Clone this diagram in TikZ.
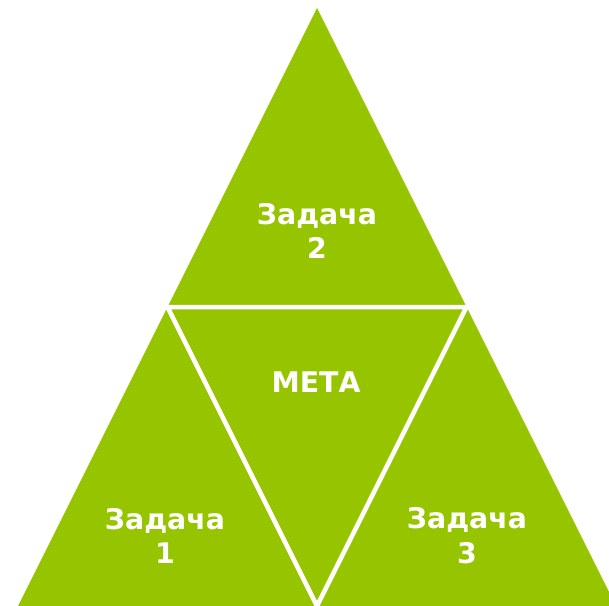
\documentclass[tikz,border=0pt]{standalone}
\usepackage{fontspec}
\setmainfont{DejaVu Sans}
\usepackage{xcolor}
\usepackage{tikz}
\usetikzlibrary{positioning}
\definecolor{leafgreen}{RGB}{150,197,0}

\begin{document}
\begin{tikzpicture}[
  x=1bp, y=-1bp,
  piece/.style={fill=leafgreen},
  seam/.style={draw=white, line width=4.5bp, line join=miter},
  tasktext/.style={text=white, align=center, font=\bfseries\fontsize{28.5}{35}\selectfont}
]
\clip (0,0) rectangle (609,606);
\coordinate (apex) at (317,8);
\coordinate (cornerL) at (18,606);
\coordinate (cornerR) at (616,606);
\coordinate (midL) at (167.5,307);
\coordinate (midR) at (466.5,307);
\coordinate (midB) at (317,606);

\fill[piece] (apex) -- (cornerL) -- (cornerR) -- cycle;
\draw[seam] (midL) -- (midR) -- (midB) -- cycle;

\node[tasktext] (task2) at (317,231) {Задача\\2};
\node[tasktext] (goal) at (316,382) {МЕТА};
\node[tasktext] (task1) at (165,536) {Задача\\1};
\node[tasktext] (task3) at (467,536) {Задача\\3};
\end{tikzpicture}
\end{document}
